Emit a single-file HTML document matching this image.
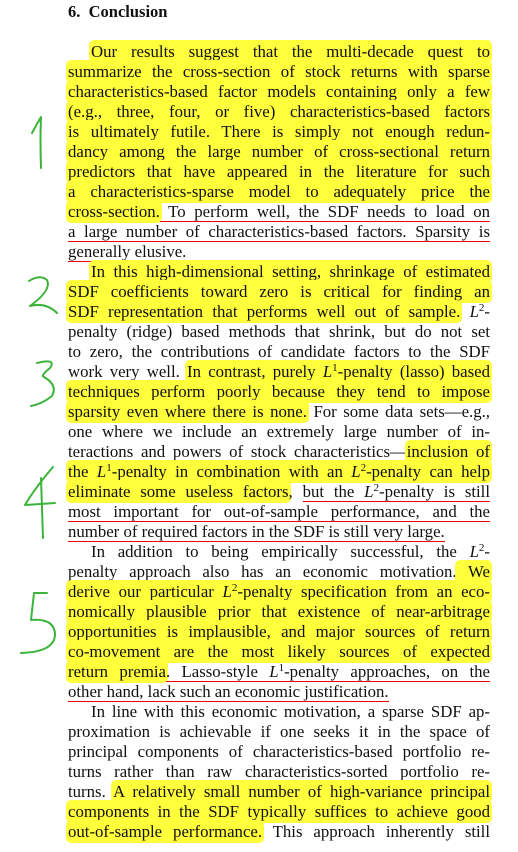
<!DOCTYPE html>
<html><head><meta charset="utf-8"><style>
html,body{margin:0;padding:0;background:#fff;width:518px;height:852px;overflow:hidden}
.l{position:absolute;left:68px;width:422px;height:20px;line-height:20px;font-family:"Liberation Serif",serif;font-size:16.8px;color:#111;text-align:justify;text-align-last:justify;white-space:nowrap}
.l.nj{text-align-last:left}
.in{padding-left:23px;width:399px}
.h{background:#ffff3c;border-radius:3px;box-shadow:0 0 0 2px #ffff3c}
.u{background:linear-gradient(#e00,#e00) left bottom/100% 1px no-repeat;padding-bottom:1px}
i{font-style:italic}
sup{font-size:11px;line-height:0;vertical-align:6px}
.t{position:absolute;left:68px;top:2px;font-family:"Liberation Serif",serif;font-weight:bold;font-size:16.5px;color:#111}
</style></head><body>
<div class="t">6.&nbsp; Conclusion</div>
<div class="l in" style="top:42px"><span class="h">Our results suggest that the multi-decade quest to</span></div>
<div class="l" style="top:62px"><span class="h">summarize the cross-section of stock returns with sparse</span></div>
<div class="l" style="top:82px"><span class="h">characteristics-based factor models containing only a few</span></div>
<div class="l" style="top:102px"><span class="h">(e.g., three, four, or five) characteristics-based factors</span></div>
<div class="l" style="top:122px"><span class="h">is ultimately futile. There is simply not enough redun-</span></div>
<div class="l" style="top:142px"><span class="h">dancy among the large number of cross-sectional return</span></div>
<div class="l" style="top:162px"><span class="h">predictors that have appeared in the literature for such</span></div>
<div class="l" style="top:182px"><span class="h">a characteristics-sparse model to adequately price the</span></div>
<div class="l" style="top:202px"><span class="h">cross-section.</span><span class="u"> To perform well, the SDF needs to load on</span></div>
<div class="l" style="top:222px"><span class="u">a large number of characteristics-based factors. Sparsity is</span></div>
<div class="l nj" style="top:242px"><span class="u">generally elusive.</span></div>
<div class="l in" style="top:262px"><span class="h">In this high-dimensional setting, shrinkage of estimated</span></div>
<div class="l" style="top:282px"><span class="h">SDF coefficients toward zero is critical for finding an</span></div>
<div class="l" style="top:302px"><span class="h">SDF representation that performs well out of sample.</span> <i>L</i><sup>2</sup>-</div>
<div class="l" style="top:322px">penalty (ridge) based methods that shrink, but do not set</div>
<div class="l" style="top:342px">to zero, the contributions of candidate factors to the SDF</div>
<div class="l" style="top:362px">work very well. <span class="h">In contrast, purely <i>L</i><sup>1</sup>-penalty (lasso) based</span></div>
<div class="l" style="top:382px"><span class="h">techniques perform poorly because they tend to impose</span></div>
<div class="l" style="top:402px"><span class="h">sparsity even where there is none.</span> For some data sets—e.g.,</div>
<div class="l" style="top:422px">one where we include an extremely large number of in-</div>
<div class="l" style="top:442px">teractions and powers of stock characteristics—<span class="h">inclusion of</span></div>
<div class="l" style="top:462px"><span class="h">the <i>L</i><sup>1</sup>-penalty in combination with an <i>L</i><sup>2</sup>-penalty can help</span></div>
<div class="l" style="top:482px"><span class="h">eliminate some useless factors</span>, <span class="u">but the <i>L</i><sup>2</sup>-penalty is still</span></div>
<div class="l" style="top:502px"><span class="u">most important for out-of-sample performance, and the</span></div>
<div class="l nj" style="top:522px"><span class="u">number of required factors in the SDF is still very large.</span></div>
<div class="l in" style="top:542px">In addition to being empirically successful, the <i>L</i><sup>2</sup>-</div>
<div class="l" style="top:562px">penalty approach also has an economic motivation.<span class="h"> We</span></div>
<div class="l" style="top:582px"><span class="h">derive our particular <i>L</i><sup>2</sup>-penalty specification from an eco-</span></div>
<div class="l" style="top:602px"><span class="h">nomically plausible prior that existence of near-arbitrage</span></div>
<div class="l" style="top:622px"><span class="h">opportunities is implausible, and major sources of return</span></div>
<div class="l" style="top:642px"><span class="h">co-movement are the most likely sources of expected</span></div>
<div class="l" style="top:662px"><span class="h">return premia</span><span class="u">. Lasso-style <i>L</i><sup>1</sup>-penalty approaches, on the</span></div>
<div class="l nj" style="top:682px"><span class="u">other hand, lack such an economic justification.</span></div>
<div class="l in" style="top:702px">In line with this economic motivation, a sparse SDF ap-</div>
<div class="l" style="top:722px">proximation is achievable if one seeks it in the space of</div>
<div class="l" style="top:742px">principal components of characteristics-based portfolio re-</div>
<div class="l" style="top:762px">turns rather than raw characteristics-sorted portfolio re-</div>
<div class="l" style="top:782px">turns. <span class="h">A relatively small number of high-variance principal</span></div>
<div class="l" style="top:802px"><span class="h">components in the SDF typically suffices to achieve good</span></div>
<div class="l" style="top:822px"><span class="h">out-of-sample performance.</span> This approach inherently still</div>
<svg width="518" height="852" style="position:absolute;left:0;top:0" fill="none" stroke="#3cb43c" stroke-width="2" stroke-linecap="round" stroke-linejoin="round">
<path d="M32,133 Q38,122 41,117 Q40,140 41,168"/>
<path d="M29,281 Q40,274 47,280 Q52,290 30,306 Q46,302 57,313"/>
<path d="M37,363 Q57,358 50,368 Q40,376 44,377 Q58,385 52,396 Q42,404 31,406"/>
<path d="M53,467 Q35,488 25,505 L55,503 M41,478 Q42,510 43,538"/>
<path d="M47,593 L34,593 L31,620 Q55,618 55,635 Q54,652 21,653"/>
</svg>
</body></html>
